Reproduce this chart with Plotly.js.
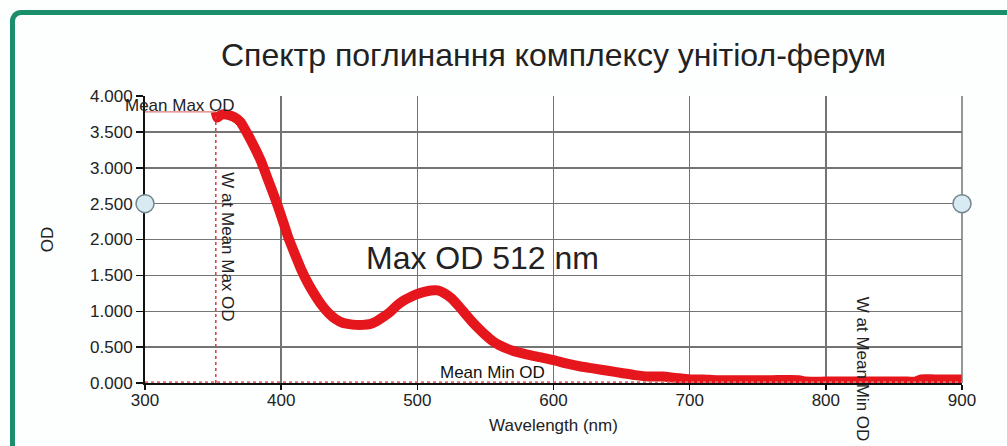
<!DOCTYPE html>
<html>
<head>
<meta charset="utf-8">
<script src="https://cdn.plot.ly/plotly-3.0.1.min.js"></script>
<style>
  html, body { margin: 0; padding: 0; background: #fdfefe; }
  #wrap { position: relative; width: 1007px; height: 446px; overflow: hidden; }
  #chart { position: absolute; left: 0; top: 0; width: 1007px; height: 446px; }
  #frame { position: absolute; left: 10px; top: 10px; width: 1020px; height: 460px;
           border-left: 5px solid #1b8e6c; border-top: 5px solid #1b8e6c;
           border-top-left-radius: 11px; pointer-events: none; box-sizing: border-box; }
</style>
</head>
<body>
<div id="wrap">
  <div id="chart"></div>
  <div id="frame"></div>
</div>
<script>
// ---- data ----
const wavelength = [352, 353, 356, 360, 365, 370, 375, 380, 385, 390, 395, 400, 405, 410, 415, 420, 425, 430, 435, 440,
  445, 450, 455, 460, 465, 470, 475, 480, 485, 490, 495, 500, 505, 510, 515, 520, 525, 530, 535, 540,
  545, 550, 555, 560, 570, 580, 590, 600, 610, 620, 630, 640, 650, 660, 670, 680, 690, 700, 710, 720,
  740, 760, 780, 785, 800, 820, 840, 860, 866, 870, 880, 900];
const od = [3.78, 3.70, 3.74, 3.74, 3.71, 3.64, 3.48, 3.30, 3.10, 2.85, 2.60, 2.33, 2.04, 1.80, 1.57, 1.38, 1.22, 1.08, 0.97, 0.89,
  0.84, 0.82, 0.81, 0.81, 0.82, 0.86, 0.92, 0.99, 1.08, 1.15, 1.20, 1.24, 1.27, 1.29, 1.29, 1.25, 1.18, 1.08, 0.97, 0.86,
  0.76, 0.67, 0.59, 0.53, 0.45, 0.40, 0.36, 0.32, 0.27, 0.23, 0.20, 0.17, 0.14, 0.11, 0.09, 0.09, 0.07, 0.05, 0.05, 0.04,
  0.04, 0.04, 0.04, 0.02, 0.02, 0.02, 0.02, 0.02, 0.02, 0.05, 0.05, 0.05];
const xTicks = [300, 400, 500, 600, 700, 800, 900];
const xTickLabels = ['300', '400', '500', '600', '700', '800', '900'];
const yTicks = [0, 0.5, 1, 1.5, 2, 2.5, 3, 3.5, 4];
const yTickLabels = ['0.000', '0.500', '1.000', '1.500', '2.000', '2.500', '3.000', '3.500', '4.000'];
const meanMaxOD = 3.78;
const wAtMeanMaxOD = 352;
const meanMinOD = 0.012;
const cursorOD = 2.5;
const titleText = 'Спектр поглинання комплексу унітіол-ферум';
const xTitle = 'Wavelength (nm)';
const yTitle = 'OD';
const peakLabel = 'Max OD 512 nm';

const FONT = 'Liberation Sans, Arial, sans-serif';
const TXT = '#222222';
const Y_MAX = 4;

const trace = {
  x: wavelength, y: od, type: 'scatter', mode: 'lines',
  line: { color: '#e5161c', width: 10, shape: 'spline', smoothing: 0.6 },
  hoverinfo: 'x+y', showlegend: false
};

const layout = {
  width: 1007, height: 446,
  margin: { l: 145, r: 45, t: 96, b: 63 },
  paper_bgcolor: '#fdfefe', plot_bgcolor: '#ffffff',
  font: { family: FONT, size: 17, color: TXT },
  title: { text: titleText, font: { family: FONT, size: 32, color: TXT },
           x: 0.5, xref: 'paper', xanchor: 'center', y: 1 - 55 / 446, yref: 'container', yanchor: 'middle' },
  showlegend: false,
  xaxis: {
    range: [300, 900], tickvals: xTicks, ticktext: xTickLabels,
    showgrid: true, gridcolor: '#747474', gridwidth: 1.5,
    showline: true, linecolor: '#111', linewidth: 2, mirror: false,
    ticks: 'outside', ticklen: 5, tickcolor: '#111', tickwidth: 1.5,
    ticklabelstandoff: -4,
    tickfont: { family: FONT, size: 17, color: TXT },
    zeroline: false,
    title: { text: xTitle, font: { family: FONT, size: 17, color: TXT }, standoff: 10 }
  },
  yaxis: {
    range: [0, Y_MAX], tickvals: yTicks, ticktext: yTickLabels,
    showgrid: true, gridcolor: '#747474', gridwidth: 1.5,
    showline: true, linecolor: '#111', linewidth: 2,
    ticks: 'outside', ticklen: 7, tickcolor: '#111', tickwidth: 1.5,
    tickfont: { family: FONT, size: 17, color: TXT },
    zeroline: false,
    title: { text: yTitle, font: { family: FONT, size: 17, color: TXT }, standoff: 32 }
  },
  shapes: [
    // right grid frame
    { type: 'line', xref: 'paper', yref: 'paper', x0: 1, x1: 1, y0: 0, y1: 1, line: { color: '#747474', width: 1.5 } },
    // mean max OD horizontal
    { type: 'line', xref: 'x', yref: 'y', x0: 300, x1: wAtMeanMaxOD, y0: meanMaxOD, y1: meanMaxOD,
      line: { color: '#e07a7a', width: 1.2 } },
    // W at mean max OD vertical dotted
    { type: 'line', xref: 'x', yref: 'y', x0: wAtMeanMaxOD, x1: wAtMeanMaxOD, y0: 0, y1: meanMaxOD,
      line: { color: '#d83a3a', width: 1.5, dash: 'dot' } },
    // mean min OD dotted
    { type: 'line', xref: 'x', yref: 'y', x0: 300, x1: 900, y0: meanMinOD, y1: meanMinOD,
      line: { color: '#e07070', width: 2, dash: 'dot' } },
    // cursor handles (paper refs so they are not clipped)
    { type: 'circle', xref: 'paper', yref: 'paper', xsizemode: 'pixel', ysizemode: 'pixel',
      xanchor: 0, yanchor: cursorOD / Y_MAX, x0: -9, x1: 9, y0: -9, y1: 9,
      fillcolor: '#d8eaf2', line: { color: '#71858c', width: 1.5 } },
    { type: 'circle', xref: 'paper', yref: 'paper', xsizemode: 'pixel', ysizemode: 'pixel',
      xanchor: 1, yanchor: cursorOD / Y_MAX, x0: -9, x1: 9, y0: -9, y1: 9,
      fillcolor: '#d8eaf2', line: { color: '#71858c', width: 1.5 } }
  ],
  annotations: [
    { text: 'Mean Max OD', xref: 'x', yref: 'y', x: 326, y: 3.87, showarrow: false,
      font: { family: FONT, size: 17, color: TXT }, xanchor: 'center', yanchor: 'middle' },
    { text: 'W at Mean Max OD', xref: 'x', yref: 'y', x: 360.5, y: 1.9, showarrow: false, textangle: 90,
      font: { family: FONT, size: 17, color: TXT }, xanchor: 'center', yanchor: 'middle' },
    { text: peakLabel, xref: 'x', yref: 'y', x: 548, y: 1.74, showarrow: false,
      font: { family: FONT, size: 32, color: TXT }, xanchor: 'center', yanchor: 'middle' },
    { text: 'Mean Min OD', xref: 'x', yref: 'y', x: 555, y: 0.15, showarrow: false,
      font: { family: FONT, size: 17, color: '#111' }, xanchor: 'center', yanchor: 'middle' },
    { text: 'W at Mean Min OD', xref: 'x', yref: 'y', x: 827, y: 0.19, showarrow: false, textangle: 90,
      font: { family: FONT, size: 17, color: TXT }, xanchor: 'center', yanchor: 'middle' }
  ]
};

Plotly.newPlot('chart', [trace], layout, { displayModeBar: false, staticPlot: true });
</script>
</body>
</html>
